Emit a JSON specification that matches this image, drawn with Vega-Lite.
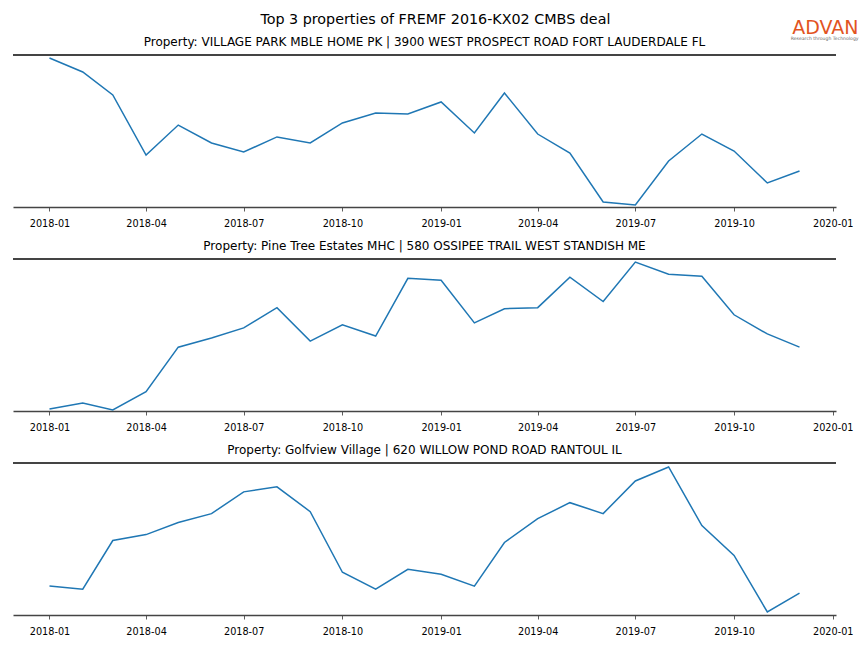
{
  "$schema": "https://vega.github.io/schema/vega-lite/v6.json",
  "padding": {"left": 12, "top": 13, "right": 7, "bottom": 10},
  "background": "white",
  "title": {"text": "Top 3 properties of FREMF 2016-KX02 CMBS deal", "fontSize": 14.3, "font": "DejaVu Sans", "fontWeight": "normal", "color": "#000", "anchor": "middle", "offset": -9},
  "config": {
    "font": "DejaVu Sans",
    "view": {"stroke": null},
    "axis": {"grid": false, "title": null, "domainColor": "#444", "domainWidth": 1.6, "tickColor": "#333", "tickSize": 4, "tickWidth": 0.8, "labelFontSize": 9.7, "labelColor": "#000", "labelPadding": 7, "labelFont": "DejaVu Sans"},
    "title": {"fontSize": 12, "fontWeight": "normal", "font": "DejaVu Sans", "color": "#000", "offset": 5}
  },
  "datasets": {
    "p1": [
      {"month": "2018-01-01", "value": 98.0}, {"month": "2018-02-01", "value": 88.8}, {"month": "2018-03-01", "value": 73.7},
      {"month": "2018-04-01", "value": 34.2}, {"month": "2018-05-01", "value": 53.9}, {"month": "2018-06-01", "value": 42.1},
      {"month": "2018-07-01", "value": 36.2}, {"month": "2018-08-01", "value": 46.1}, {"month": "2018-09-01", "value": 42.1},
      {"month": "2018-10-01", "value": 55.3}, {"month": "2018-11-01", "value": 61.8}, {"month": "2018-12-01", "value": 61.2},
      {"month": "2019-01-01", "value": 69.1}, {"month": "2019-02-01", "value": 48.7}, {"month": "2019-03-01", "value": 75.0},
      {"month": "2019-04-01", "value": 48.0}, {"month": "2019-05-01", "value": 35.5}, {"month": "2019-06-01", "value": 3.3},
      {"month": "2019-07-01", "value": 1.3}, {"month": "2019-08-01", "value": 30.3}, {"month": "2019-09-01", "value": 48.0},
      {"month": "2019-10-01", "value": 36.8}, {"month": "2019-11-01", "value": 15.8}, {"month": "2019-12-01", "value": 23.7}
    ],
    "p2": [
      {"month": "2018-01-01", "value": 1.3}, {"month": "2018-02-01", "value": 5.3}, {"month": "2018-03-01", "value": 0.7},
      {"month": "2018-04-01", "value": 12.7}, {"month": "2018-05-01", "value": 42.0}, {"month": "2018-06-01", "value": 48.0},
      {"month": "2018-07-01", "value": 54.7}, {"month": "2018-08-01", "value": 68.0}, {"month": "2018-09-01", "value": 46.0},
      {"month": "2018-10-01", "value": 56.7}, {"month": "2018-11-01", "value": 49.3}, {"month": "2018-12-01", "value": 87.3},
      {"month": "2019-01-01", "value": 86.0}, {"month": "2019-02-01", "value": 58.0}, {"month": "2019-03-01", "value": 67.3},
      {"month": "2019-04-01", "value": 68.0}, {"month": "2019-05-01", "value": 88.0}, {"month": "2019-06-01", "value": 72.0},
      {"month": "2019-07-01", "value": 98.0}, {"month": "2019-08-01", "value": 90.0}, {"month": "2019-09-01", "value": 88.7},
      {"month": "2019-10-01", "value": 63.3}, {"month": "2019-11-01", "value": 50.7}, {"month": "2019-12-01", "value": 42.0}
    ],
    "p3": [
      {"month": "2018-01-01", "value": 19.0}, {"month": "2018-02-01", "value": 17.0}, {"month": "2018-03-01", "value": 49.0},
      {"month": "2018-04-01", "value": 52.9}, {"month": "2018-05-01", "value": 60.8}, {"month": "2018-06-01", "value": 66.7},
      {"month": "2018-07-01", "value": 81.0}, {"month": "2018-08-01", "value": 84.3}, {"month": "2018-09-01", "value": 68.0},
      {"month": "2018-10-01", "value": 28.1}, {"month": "2018-11-01", "value": 17.0}, {"month": "2018-12-01", "value": 30.1},
      {"month": "2019-01-01", "value": 26.8}, {"month": "2019-02-01", "value": 19.0}, {"month": "2019-03-01", "value": 47.7},
      {"month": "2019-04-01", "value": 63.4}, {"month": "2019-05-01", "value": 73.9}, {"month": "2019-06-01", "value": 66.7},
      {"month": "2019-07-01", "value": 88.2}, {"month": "2019-08-01", "value": 97.4}, {"month": "2019-09-01", "value": 58.8},
      {"month": "2019-10-01", "value": 39.2}, {"month": "2019-11-01", "value": 2.0}, {"month": "2019-12-01", "value": 14.4}
    ],
    "logo": [{"label": "ADVAN", "sub": "Research through Technology"}]
  },
  "spacing": 52,
  "bounds": "flush",
  "vconcat": [
    {
      "width": 823, "height": 152,
      "title": {"text": "Property: VILLAGE PARK MBLE HOME PK | 3900 WEST PROSPECT ROAD FORT LAUDERDALE FL", "offset": -30},
      "layer": [
        {"data": {"name": "p1"}, "mark": {"type": "rule", "color": "#444", "strokeWidth": 1.6}, "encoding": {"y": {"datum": 100, "type": "quantitative"}}},
        {"data": {"name": "p1"}, "mark": {"type": "line", "color": "#1f77b4", "strokeWidth": 1.5},
         "encoding": {
           "x": {"field": "month", "type": "temporal", "scale": {"type": "utc", "domain": [{"year": 2017, "month": 11, "date": 28, "utc": true}, {"year": 2020, "month": 1, "date": 4, "utc": true}]},
                 "axis": {"labelExpr": "utcFormat(datum.value, '%Y-%m')", "values": [{"year": 2018, "month": 1, "date": 1, "utc": true}, {"year": 2018, "month": 4, "date": 1, "utc": true}, {"year": 2018, "month": 7, "date": 1, "utc": true}, {"year": 2018, "month": 10, "date": 1, "utc": true}, {"year": 2019, "month": 1, "date": 1, "utc": true}, {"year": 2019, "month": 4, "date": 1, "utc": true}, {"year": 2019, "month": 7, "date": 1, "utc": true}, {"year": 2019, "month": 10, "date": 1, "utc": true}, {"year": 2020, "month": 1, "date": 1, "utc": true}]}},
           "y": {"field": "value", "type": "quantitative", "scale": {"domain": [0, 100], "nice": false, "zero": false}, "axis": null}
         }},
        {"data": {"name": "logo"}, "mark": {"type": "text", "color": "#e2541f", "fontSize": 19, "font": "DejaVu Sans", "align": "right", "baseline": "alphabetic"},
         "encoding": {"text": {"field": "label"}, "x": {"datum": {"year": 2020, "month": 1, "date": 25, "utc": true}, "type": "temporal"}, "y": {"datum": 114, "type": "quantitative"}}},
        {"data": {"name": "logo"}, "mark": {"type": "text", "color": "#666", "fontSize": 4.6, "font": "DejaVu Sans", "align": "right", "baseline": "alphabetic"},
         "encoding": {"text": {"field": "sub"}, "x": {"datum": {"year": 2020, "month": 1, "date": 25, "utc": true}, "type": "temporal"}, "y": {"datum": 110, "type": "quantitative"}}}
      ]
    },
    {
      "width": 823, "height": 152,
      "title": {"text": "Property: Pine Tree Estates MHC | 580 OSSIPEE TRAIL WEST STANDISH ME"},
      "data": {"name": "p2"},
      "layer": [
        {"mark": {"type": "rule", "color": "#444", "strokeWidth": 1.6}, "encoding": {"y": {"datum": 100, "type": "quantitative"}}},
        {"mark": {"type": "line", "color": "#1f77b4", "strokeWidth": 1.5},
         "encoding": {
           "x": {"field": "month", "type": "temporal", "scale": {"type": "utc", "domain": [{"year": 2017, "month": 11, "date": 28, "utc": true}, {"year": 2020, "month": 1, "date": 4, "utc": true}]},
                 "axis": {"labelExpr": "utcFormat(datum.value, '%Y-%m')", "values": [{"year": 2018, "month": 1, "date": 1, "utc": true}, {"year": 2018, "month": 4, "date": 1, "utc": true}, {"year": 2018, "month": 7, "date": 1, "utc": true}, {"year": 2018, "month": 10, "date": 1, "utc": true}, {"year": 2019, "month": 1, "date": 1, "utc": true}, {"year": 2019, "month": 4, "date": 1, "utc": true}, {"year": 2019, "month": 7, "date": 1, "utc": true}, {"year": 2019, "month": 10, "date": 1, "utc": true}, {"year": 2020, "month": 1, "date": 1, "utc": true}]}},
           "y": {"field": "value", "type": "quantitative", "scale": {"domain": [0, 100], "nice": false, "zero": false}, "axis": null}
         }}
      ]
    },
    {
      "width": 823, "height": 152,
      "title": {"text": "Property: Golfview Village | 620 WILLOW POND ROAD RANTOUL IL"},
      "data": {"name": "p3"},
      "layer": [
        {"mark": {"type": "rule", "color": "#444", "strokeWidth": 1.6}, "encoding": {"y": {"datum": 100, "type": "quantitative"}}},
        {"mark": {"type": "line", "color": "#1f77b4", "strokeWidth": 1.5},
         "encoding": {
           "x": {"field": "month", "type": "temporal", "scale": {"type": "utc", "domain": [{"year": 2017, "month": 11, "date": 28, "utc": true}, {"year": 2020, "month": 1, "date": 4, "utc": true}]},
                 "axis": {"labelExpr": "utcFormat(datum.value, '%Y-%m')", "values": [{"year": 2018, "month": 1, "date": 1, "utc": true}, {"year": 2018, "month": 4, "date": 1, "utc": true}, {"year": 2018, "month": 7, "date": 1, "utc": true}, {"year": 2018, "month": 10, "date": 1, "utc": true}, {"year": 2019, "month": 1, "date": 1, "utc": true}, {"year": 2019, "month": 4, "date": 1, "utc": true}, {"year": 2019, "month": 7, "date": 1, "utc": true}, {"year": 2019, "month": 10, "date": 1, "utc": true}, {"year": 2020, "month": 1, "date": 1, "utc": true}]}},
           "y": {"field": "value", "type": "quantitative", "scale": {"domain": [0, 100], "nice": false, "zero": false}, "axis": null}
         }}
      ]
    }
  ]
}
